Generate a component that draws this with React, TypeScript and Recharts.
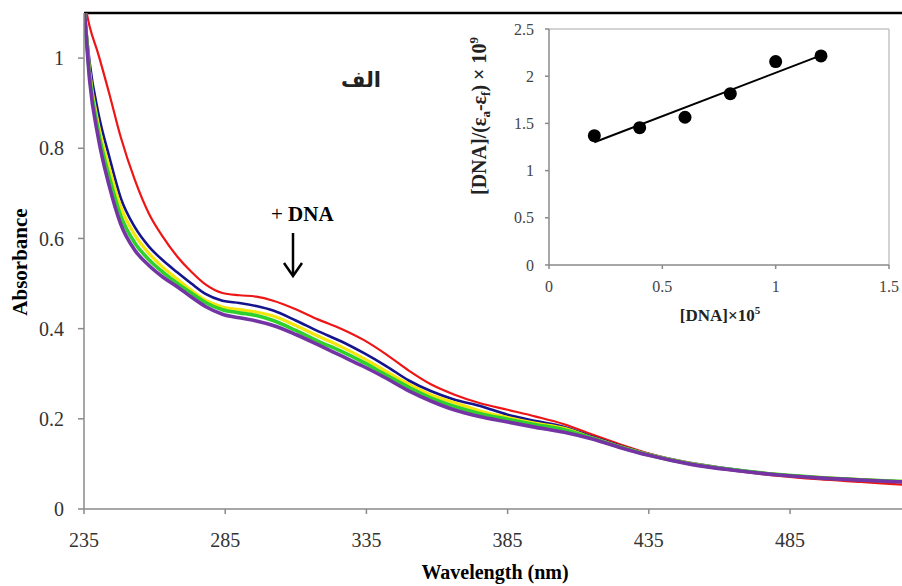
import React from 'react';
import { LineChart, Line, XAxis, YAxis, ReferenceLine, ComposedChart, Scatter } from 'recharts';

// ---- main spectra (absorbance vs wavelength, nm) ----
const wavelengths = [235, 237, 240, 244, 248, 253, 258, 263, 268, 273, 278, 284, 290, 296, 302, 310, 318, 326, 334, 342, 350, 358, 366, 375, 385, 395, 405, 415, 425, 435, 450, 465, 480, 495, 510, 525];
const redCurve = [1.13, 1.07, 1.01, 0.92, 0.825, 0.73, 0.655, 0.603, 0.56, 0.526, 0.498, 0.479, 0.474, 0.471, 0.462, 0.443, 0.42, 0.40, 0.375, 0.343, 0.307, 0.276, 0.254, 0.235, 0.22, 0.205, 0.188, 0.165, 0.143, 0.123, 0.1, 0.085, 0.074, 0.066, 0.06, 0.054];
const navyCurve = [1.12, 0.99, 0.88, 0.78, 0.69, 0.625, 0.582, 0.551, 0.525, 0.50, 0.477, 0.462, 0.457, 0.45, 0.44, 0.418, 0.394, 0.372, 0.346, 0.317, 0.285, 0.261, 0.243, 0.229, 0.209, 0.195, 0.182, 0.16, 0.14, 0.122, 0.102, 0.088, 0.077, 0.07, 0.065, 0.061];
const yellowCurve = [1.12, 0.97, 0.855, 0.755, 0.67, 0.608, 0.567, 0.536, 0.51, 0.485, 0.463, 0.448, 0.442, 0.437, 0.428, 0.407, 0.383, 0.36, 0.334, 0.305, 0.277, 0.253, 0.236, 0.218, 0.203, 0.19, 0.179, 0.158, 0.138, 0.121, 0.101, 0.087, 0.077, 0.07, 0.065, 0.061];
const greenCurve = [1.12, 0.96, 0.84, 0.735, 0.65, 0.59, 0.553, 0.525, 0.501, 0.479, 0.458, 0.442, 0.435, 0.429, 0.418, 0.396, 0.372, 0.35, 0.325, 0.297, 0.27, 0.246, 0.228, 0.212, 0.199, 0.187, 0.176, 0.157, 0.137, 0.12, 0.1, 0.087, 0.077, 0.07, 0.065, 0.061];
const purpleCurve = [1.12, 0.95, 0.825, 0.715, 0.632, 0.574, 0.54, 0.514, 0.493, 0.47, 0.449, 0.432, 0.424, 0.417, 0.407, 0.387, 0.364, 0.34, 0.316, 0.29, 0.262, 0.239, 0.22, 0.205, 0.193, 0.181, 0.17, 0.155, 0.136, 0.119, 0.099, 0.086, 0.076, 0.069, 0.064, 0.06];

const xTicks = [235, 285, 335, 385, 435, 485];
const yTicks = [0, 0.2, 0.4, 0.6, 0.8, 1];

// ---- inset: [DNA]/(ea-ef) vs [DNA] ----
const insetConc = [0.2, 0.4, 0.6, 0.8, 1.0, 1.2];
const insetRatio = [1.37, 1.455, 1.565, 1.815, 2.155, 2.215];
const fitConc = [0.2, 1.2];
const fitRatio = [1.30, 2.22];
const insetXTicks = [0, 0.5, 1, 1.5];
const insetYTicks = [0, 0.5, 1, 1.5, 2, 2.5];

const series = [
  { key: 'red', values: redCurve, color: '#ee1515', width: 2.2 },
  { key: 'navy', values: navyCurve, color: '#14148c', width: 2.6 },
  { key: 'yellow', values: yellowCurve, color: '#f3e60a', width: 3.2 },
  { key: 'green', values: greenCurve, color: '#2ed02e', width: 3.6 },
  { key: 'purple', values: purpleCurve, color: '#7434a4', width: 3.6 },
];

const spectrumData = wavelengths.map((nm, i) => {
  const row: Record<string, number> = { nm };
  series.forEach((s) => { row[s.key] = s.values[i]; });
  return row;
});

const insetPoints = insetConc.map((x, i) => ({ x, y: insetRatio[i] }));
const fitPoints = fitConc.map((x, i) => ({ x, y: fitRatio[i] }));

const serif = 'Liberation Serif';

const mainTick = { fontSize: 20, fill: '#333', fontFamily: serif, style: { fontFamily: serif } };
const insetTick = { fontSize: 16, fill: '#444', fontFamily: serif, style: { fontFamily: serif } };

export default function App() {
  return (
    <div style={{ position: 'absolute', left: 0, top: 0, width: 902, height: 586, overflow: 'hidden', background: '#fff', fontFamily: serif }}>
      <LineChart width={903} height={586} data={spectrumData} margin={{ top: 13, right: 0, left: 0, bottom: 0 }} style={{ fontFamily: serif }}>
        <XAxis
          dataKey="nm"
          type="number"
          domain={[235, 525]}
          ticks={xTicks}
          height={77}
          allowDataOverflow
          axisLine={{ stroke: '#8a8a8a', strokeWidth: 1.5 }}
          tickLine={{ stroke: '#8a8a8a', strokeWidth: 1.5 }}
          tickSize={5}
          tickMargin={19}
          tick={mainTick}
        />
        <YAxis
          type="number"
          domain={[0, 1.1]}
          ticks={yTicks}
          width={84}
          allowDataOverflow
          axisLine={{ stroke: '#8a8a8a', strokeWidth: 1.5 }}
          tickLine={{ stroke: '#8a8a8a', strokeWidth: 1.5 }}
          tickSize={6}
          tickMargin={14}
          tick={mainTick}
        />
        <ReferenceLine y={1.1} stroke="#000" strokeWidth={2.5} />
        {series.map((s) => (
          <Line key={s.key} dataKey={s.key} type="monotone" stroke={s.color} strokeWidth={s.width} dot={false} isAnimationActive={false} />
        ))}
      </LineChart>

      <div style={{ position: 'absolute', left: 470, top: 15 }}>
        <ComposedChart width={430} height={310} margin={{ top: 14, right: 11, left: 0, bottom: 0 }} style={{ fontFamily: serif }}>
          <XAxis
            dataKey="x"
            type="number"
            domain={[0, 1.5]}
            ticks={insetXTicks}
            height={60}
            axisLine={{ stroke: '#8a8a8a', strokeWidth: 1.5 }}
            tickLine={{ stroke: '#8a8a8a', strokeWidth: 1.5 }}
            tickSize={4}
            tickMargin={12}
            tick={insetTick}
          />
          <YAxis
            type="number"
            domain={[0, 2.5]}
            ticks={insetYTicks}
            width={79}
            axisLine={{ stroke: '#8a8a8a', strokeWidth: 1.5 }}
            tickLine={{ stroke: '#8a8a8a', strokeWidth: 1.5 }}
            tickSize={4}
            tickMargin={11}
            tick={insetTick}
          />
          <ReferenceLine y={2.5} stroke="#c4c4c4" strokeWidth={1.5} />
          <ReferenceLine x={1.5} stroke="#c4c4c4" strokeWidth={1.5} />
          <Line data={fitPoints} dataKey="y" type="linear" stroke="#000" strokeWidth={2} dot={false} isAnimationActive={false} />
          <Scatter
            data={insetPoints}
            dataKey="y"
            fill="#000"
            isAnimationActive={false}
            shape={(p: any) => <circle cx={p.cx} cy={p.cy} r={6.5} fill="#000" />}
          />
        </ComposedChart>
      </div>

      <svg width={902} height={586} style={{ position: 'absolute', left: 0, top: 0, pointerEvents: 'none', fontFamily: serif }}>
        <text transform="translate(27,262) rotate(-90)" textAnchor="middle" fontFamily={serif} fontWeight="bold" fontSize={21} fill="#000">Absorbance</text>
        <text x={495} y={579} textAnchor="middle" fontFamily={serif} fontWeight="bold" fontSize={20} fill="#000">Wavelength (nm)</text>
        <text x={271} y={221} fontFamily={serif} fontSize={21} fill="#000">
          <tspan>+ </tspan>
          <tspan fontWeight="bold">DNA</tspan>
        </text>
        <line x1={293} y1={233} x2={293} y2={275} stroke="#000" strokeWidth={2.5} />
        <polyline points="284,263 293,276 302,263" fill="none" stroke="#000" strokeWidth={2.5} />
        <text x={361} y={87} textAnchor="middle" fontFamily="DejaVu Sans" fontWeight="bold" fontSize={21} fill="#222" direction="rtl">الف</text>
        <text x={720} y={321} textAnchor="middle" fontFamily={serif} fontWeight="bold" fontSize={17} fill="#222">
          [DNA]×10<tspan dy={-7} fontSize={11}>5</tspan>
        </text>
        <text transform="translate(486,116) rotate(-90)" textAnchor="middle" fontFamily={serif} fontWeight="bold" fontSize={20} fill="#222">
          [DNA]/(ε<tspan dy={4} fontSize={13}>a</tspan><tspan dy={-4}>-ε</tspan><tspan dy={4} fontSize={13}>f</tspan><tspan dy={-4}>) × 10</tspan><tspan dy={-8} fontSize={13}>9</tspan>
        </text>
      </svg>
    </div>
  );
}
